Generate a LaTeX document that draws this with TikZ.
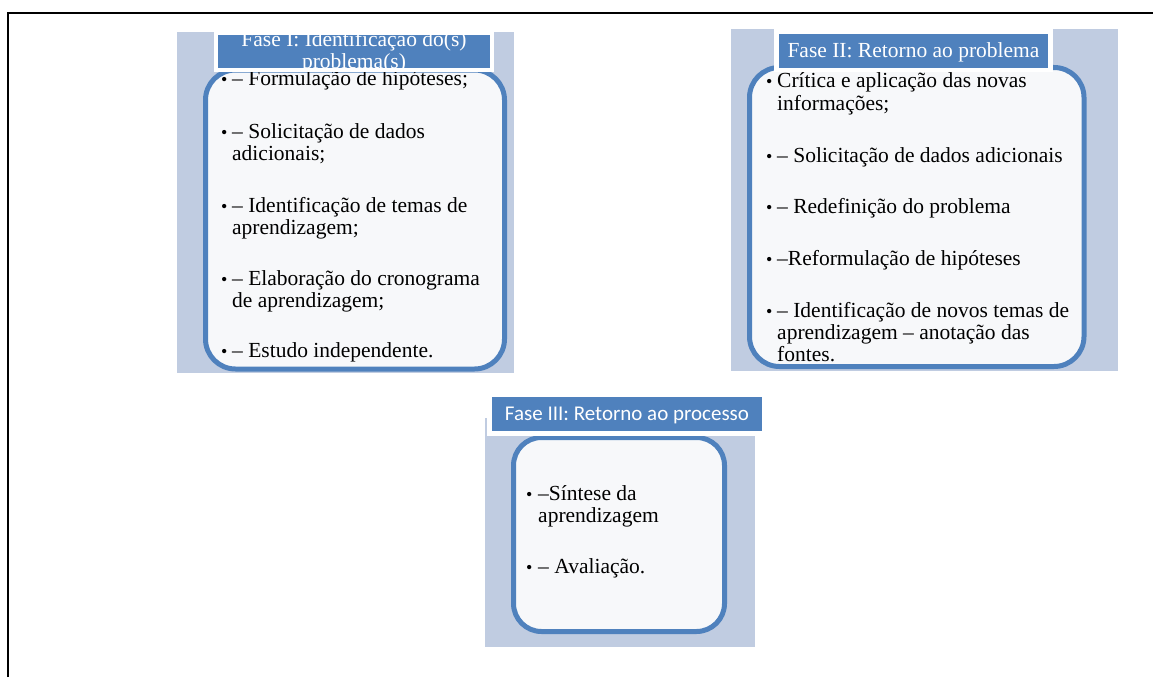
\documentclass[tikz,border=0pt]{standalone}
\usepackage{fontspec}
\setmainfont{Liberation Serif}
\newfontfamily\calibrifont{Carlito}
\definecolor{paneBG}{RGB}{192,204,225}
\definecolor{hdrBlue}{RGB}{79,129,189}
\definecolor{cardBG}{RGB}{247,248,250}
\tikzset{
  card/.style={draw=hdrBlue, line width=5pt, fill=cardBG, rounded corners=30pt},
  hdrtext/.style={text=white, inner sep=0pt, align=center, font=\fontsize{21.5}{22}\selectfont},
  bul/.style={anchor=base west, inner sep=0pt, font=\fontsize{18}{22}\selectfont},
  itm/.style={anchor=base west, inner sep=0pt, align=left, font=\fontsize{21.5}{22}\selectfont}
}

\begin{document}
\begin{tikzpicture}[x=1pt,y=-1pt]
  \useasboundingbox (0,0) rectangle (1153,677);
  %% 1. Frame
  \draw[line width=2pt] (8,677) -- (8,13) -- (1153,13);
  %% 2. Fase I (items anchored at the baseline of their last line)
  \fill[paneBG] (177,32) rectangle (514,373);
  \draw[card] (205.5,70) rectangle (504.5,369);
  \node[bul] (b11) at (221,85) {•};
  \node[itm] (i11) at (232,85) {– Formulação de hipóteses;};
  \node[bul] (b12) at (221,138) {•};
  \node[itm] (i12) at (232,160) {– Solicitação de dados\\adicionais;};
  \node[bul] (b13) at (221,212) {•};
  \node[itm] (i13) at (232,234) {– Identificação de temas de\\aprendizagem;};
  \node[bul] (b14) at (221,285) {•};
  \node[itm] (i14) at (232,307) {– Elaboração do cronograma\\de aprendizagem;};
  \node[bul] (b15) at (221,357) {•};
  \node[itm] (i15) at (232,357) {– Estudo independente.};
  \fill[white] (214,31) rectangle (494,72);
  \fill[hdrBlue] (218,35) rectangle (490,68);
  \begin{scope}
    \clip (218,35) rectangle (490,68);
    \node[hdrtext, anchor=base] (h1) at (354,69) {Fase I: Identificação do(s)\\problema(s)};
  \end{scope}
  %% 3. Fase II
  \fill[paneBG] (731,29) rectangle (1118,371);
  \draw[card] (749.5,67.5) rectangle (1084,366.5);
  \node[bul] (b21) at (766,88) {•};
  \node[itm] (i21) at (777,110) {Crítica e aplicação das novas\\informações;};
  \node[bul] (b22) at (766,162) {•};
  \node[itm] (i22) at (777,162) {– Solicitação de dados adicionais};
  \node[bul] (b23) at (766,213) {•};
  \node[itm] (i23) at (777,213) {– Redefinição do problema};
  \node[bul] (b24) at (766,265) {•};
  \node[itm] (i24) at (777,265) {–Reformulação de hipóteses};
  \node[bul] (b25) at (766,317) {•};
  \node[itm] (i25) at (777,361) {– Identificação de novos temas de\\aprendizagem – anotação das\\fontes.};
  \fill[white] (774,29) rectangle (1053,72);
  \fill[hdrBlue] (779,34) rectangle (1048,68);
  \node[hdrtext, anchor=base] (h2) at (913.5,57) {Fase II: Retorno ao problema};
  %% 4. Fase III
  \fill[paneBG] (485,418) rectangle (755,647);
  \draw[card, rounded corners=28pt] (513.5,437.5) rectangle (724.5,631.5);
  \node[bul] (b31) at (526,500) {•};
  \node[itm] (i31) at (538,522) {–Síntese da\\aprendizagem};
  \node[bul] (b32) at (526,573) {•};
  \node[itm] (i32) at (538,573) {– Avaliação.};
  \fill[white] (487,393) rectangle (767,436);
  \fill[hdrBlue] (492,397) rectangle (762,431);
  \node[hdrtext, anchor=base, font=\calibrifont\fontsize{21}{22}\selectfont] (h3) at (627,420) {Fase III: Retorno ao processo};
\end{tikzpicture}
\end{document}
